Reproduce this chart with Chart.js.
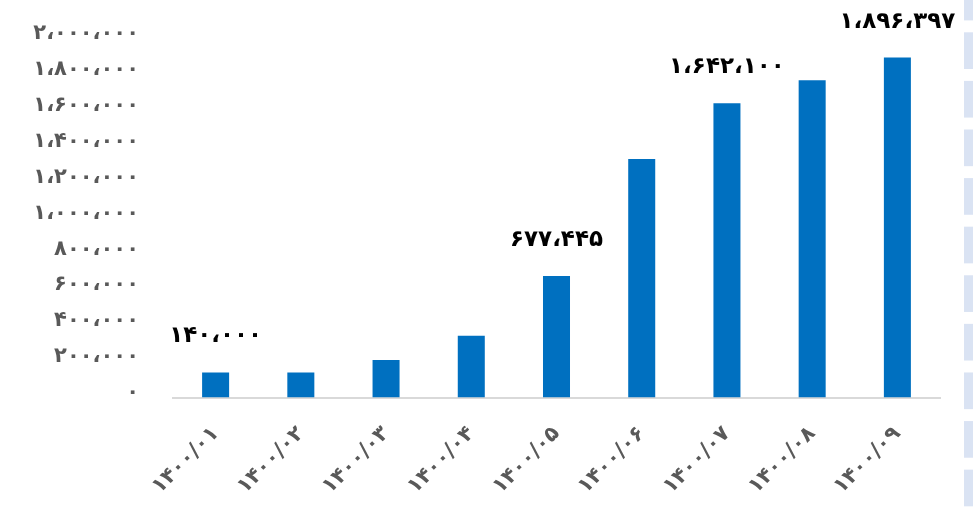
<!DOCTYPE html>
<html lang="fa">
<head>
<meta charset="utf-8">
<title>فروش ماهانه ۱۴۰۰</title>
<script src="https://cdn.jsdelivr.net/npm/chart.js@4.4.0/dist/chart.umd.min.js"></script>
<style>
    html, body { margin: 0; padding: 0; background: #fff; }
    #wrap { position: relative; width: 973px; height: 512px; }
    /* sheet cells peeking in at the right edge */
    #edge {
        position: absolute; left: 964px; top: 0; width: 9px; height: 512px;
        background-image: linear-gradient(#dae3f3 0 36.5px, #fff 36.5px 48.6px);
        background-size: 9px 48.6px;
        background-position: 0 32.3px;
    }
</style>
</head>
<body>
<div id="wrap">
    <canvas id="salesChart"></canvas>
    <div id="edge"></div>
</div>
<script>
// Months of 1400 and monthly totals
const months = ['۱۴۰۰/۰۱', '۱۴۰۰/۰۲', '۱۴۰۰/۰۳', '۱۴۰۰/۰۴', '۱۴۰۰/۰۵', '۱۴۰۰/۰۶', '۱۴۰۰/۰۷', '۱۴۰۰/۰۸', '۱۴۰۰/۰۹'];
const totals = [140000, 140000, 209000, 345000, 677445, 1330000, 1642100, 1770000, 1896397];
// only these bars get a value label
const labelledBars = [0, 4, 6, 8];
const yMax = 2000000;
const yStep = 200000;

const persianDigits = '۰۱۲۳۴۵۶۷۸۹';

function toPersian(n) {
    return n.toLocaleString('en-US')
        .replace(/\d/g, d => persianDigits[d])
        .replace(/,/g, '،');
}

// Wider digit spacing for the axis labels
const spacedText = {
    id: 'spacedText',
    beforeDraw(chart) {
        chart.ctx.letterSpacing = '2px';
    }
};

// Value labels above the chosen bars
const barValueLabels = {
    id: 'barValueLabels',
    afterDatasetsDraw(chart) {
        const ctx = chart.ctx;
        const meta = chart.getDatasetMeta(0);
        ctx.save();
        ctx.letterSpacing = '0px';
        ctx.font = 'bold 23px "DejaVu Sans"';
        ctx.fillStyle = '#000';
        ctx.textAlign = 'center';
        ctx.textBaseline = 'middle';
        labelledBars.forEach(i => {
            const bar = meta.data[i];
            ctx.fillText(toPersian(totals[i]), bar.x, bar.y - 36);
        });
        ctx.restore();
    }
};

const ctx = document.getElementById('salesChart');

new Chart(ctx, {
    type: 'bar',
    data: {
        labels: months,
        datasets: [{
            data: totals,
            backgroundColor: '#0070c0',
            borderWidth: 0,
            categoryPercentage: 1,
            barPercentage: 0.317
        }]
    },
    options: {
        responsive: true,
        maintainAspectRatio: false,
        animation: false,
        layout: {
            padding: { top: 39, right: 33, left: 0, bottom: 0 }
        },
        plugins: {
            legend: { display: false },
            tooltip: { enabled: false }
        },
        scales: {
            x: {
                offset: true,
                grid: { display: false, drawTicks: false },
                border: { display: true, color: '#d9d9d9', width: 2 },
                ticks: {
                    color: '#595959',
                    font: { family: '"DejaVu Sans"', size: 21, weight: 'bold' },
                    minRotation: 45,
                    maxRotation: 45,
                    padding: 24,
                    autoSkip: false
                },
                afterFit(scale) {
                    scale.height = 512 - 397.5;
                }
            },
            y: {
                min: 0,
                max: yMax,
                grid: { display: false, drawTicks: false },
                border: { display: false },
                ticks: {
                    stepSize: yStep,
                    color: '#595959',
                    font: { family: '"DejaVu Sans"', size: 21, weight: 'bold' },
                    padding: 34,
                    labelOffset: -5,
                    callback: value => toPersian(value)
                },
                afterFit(scale) {
                    scale.width = 173;
                    scale.paddingTop = 0;
                    scale.paddingBottom = 0;
                }
            }
        }
    },
    plugins: [spacedText, barValueLabels]
});
</script>
</body>
</html>
